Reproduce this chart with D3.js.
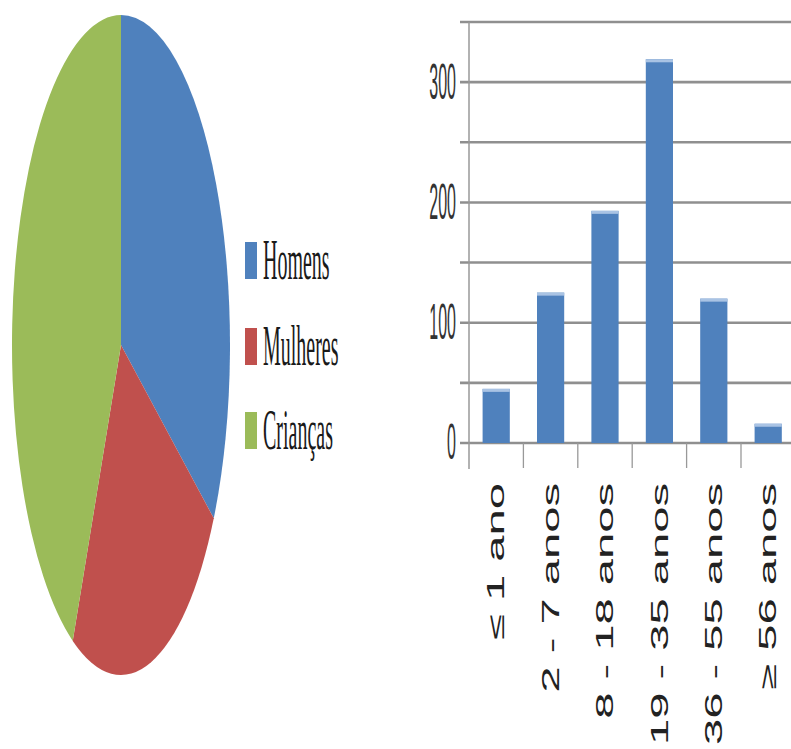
<!DOCTYPE html>
<html>
<head>
<meta charset="utf-8">
<script src="https://cdn.jsdelivr.net/npm/d3@7"></script>
<style>
  body { margin: 0; background: #fff; }
  svg { display: block; }
</style>
</head>
<body>
<svg id="chart" width="791" height="749"></svg>
<script>
// pie data (shares)
var pieNames = ["Homens", "Mulheres", "Crianças"];
var pieValues = [33.8, 23.5, 42.7];
var pieColors = ["#4f81bd", "#c0504d", "#9bbb59"];

// bar data
var ageGroups = ["≤ 1 ano", "2 - 7 anos", "8 - 18 anos", "19 - 35 anos", "36 - 55 anos", "≥ 56 anos"];
var ageCounts = [45, 125, 193, 319, 120, 16];
var yTicks = [0, 50, 100, 150, 200, 250, 300, 350];

var svg = d3.select("#chart");

/* pie, drawn round then squeezed into an ellipse */
let cx = 121, cy = 345, ry = 330, rx = 109;
let pie = d3.pie().sort(null).value(d => d);
let arc = d3.arc().innerRadius(0).outerRadius(ry);

let pieG = svg.append("g")
    .attr("transform", "translate(" + cx + "," + cy + ") scale(" + (rx / ry) + ",1)");
pieG.selectAll("path")
    .data(pie(pieValues))
    .join("path")
    .attr("d", arc)
    .attr("fill", (d, i) => pieColors[i]);

// legend
let legY = [260, 346, 430];
let leg = svg.selectAll(".leg")
    .data(pieNames)
    .join("g")
    .attr("class", "leg")
    .attr("transform", (d, i) => "translate(245," + legY[i] + ")");
leg.append("rect")
    .attr("x", 0).attr("y", -18)
    .attr("width", 12).attr("height", 37)
    .attr("fill", (d, i) => pieColors[i]);
leg.append("text")
    .attr("transform", "translate(18,0) scale(1,2.85)")
    .attr("dy", "0.33em")
    .attr("font-family", "Liberation Serif, serif")
    .attr("font-size", 20)
    .attr("fill", "#1a1a1a")
    .text(d => d);

/* bar chart */
let x0 = 469, yTop = 22, yZero = 443;
let xScale = d3.scaleBand()
    .domain(ageGroups)
    .range([x0, x0 + 6 * 54.4])
    .paddingInner(0.5)
    .paddingOuter(0.25);
let yScale = d3.scaleLinear()
    .domain([0, 350])
    .range([yZero, yTop]);

// gridlines
svg.append("g").selectAll("line")
    .data(yTicks)
    .join("line")
    .attr("x1", 460).attr("x2", 791)
    .attr("y1", d => yScale(d)).attr("y2", d => yScale(d))
    .attr("stroke", "#8f8f8f")
    .attr("stroke-width", 2.6);

// y axis with labels every 100
let yAxis = svg.append("g")
    .attr("transform", "translate(" + x0 + ",0)")
    .call(d3.axisLeft(yScale)
        .tickValues(yTicks)
        .tickSize(0)
        .tickPadding(13)
        .tickFormat(d => d % 100 == 0 ? d : ""));
yAxis.select(".domain").remove();
yAxis.selectAll("text")
    .attr("font-family", "Liberation Sans, Arial, sans-serif")
    .attr("font-size", 16)
    .attr("fill", "#333")
    .attr("transform", "scale(1,3.1)")
    .attr("y", 0);
svg.append("line")
    .attr("x1", x0).attr("x2", x0)
    .attr("y1", yTop).attr("y2", 469)
    .attr("stroke", "#999").attr("stroke-width", 1.5);

// category separators below the axis
let sepX = ageGroups.map((d, i) => xScale(d) - xScale.step() * 0.25).slice(1);
svg.append("g").selectAll("line")
    .data(sepX)
    .join("line")
    .attr("x1", d => d).attr("x2", d => d)
    .attr("y1", yZero).attr("y2", 468)
    .attr("stroke", "#999").attr("stroke-width", 1.3);

// bars
let bars = svg.append("g").selectAll("g")
    .data(ageCounts)
    .join("g");
bars.append("rect")
    .attr("x", (d, i) => xScale(ageGroups[i]))
    .attr("y", d => yScale(d))
    .attr("width", xScale.bandwidth())
    .attr("height", d => yZero - yScale(d))
    .attr("fill", "#4f81bd");
bars.append("rect")
    .attr("x", (d, i) => xScale(ageGroups[i]))
    .attr("y", d => yScale(d))
    .attr("width", xScale.bandwidth())
    .attr("height", 3)
    .attr("fill", "#a9c3e4");

// rotated category labels
svg.append("g").selectAll("text")
    .data(ageGroups)
    .join("text")
    .attr("transform", d => "translate(" + (xScale(d) + xScale.bandwidth() / 2) + ",483) rotate(-90) scale(2.05,1)")
    .attr("text-anchor", "end")
    .attr("dy", "0.36em")
    .attr("font-family", "Liberation Sans, Arial, sans-serif")
    .attr("font-size", 23)
    .attr("fill", "#222")
    .text(d => d);
</script>
</body>
</html>
